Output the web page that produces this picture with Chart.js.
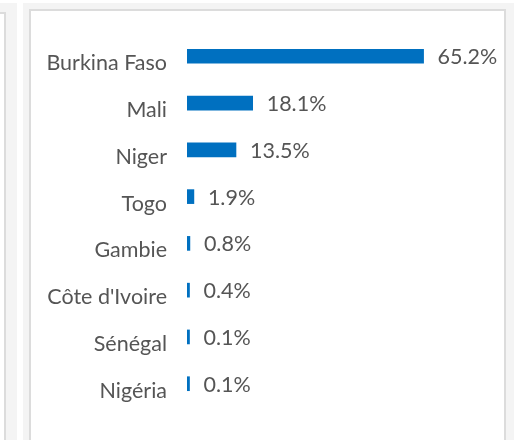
<!DOCTYPE html>
<html><head><meta charset="utf-8">
<script src="https://cdn.jsdelivr.net/npm/chart.js@4.4.1/dist/chart.umd.min.js"></script>
<style>
html,body{margin:0;padding:0;background:#fff;width:514px;height:440px;overflow:hidden;}
.card{position:absolute;background:#f4f4f4;}
.inner{position:absolute;background:#fff;border:2px solid #dcdcdc;box-sizing:border-box;}
#wrap{position:absolute;left:0;top:0;width:514px;height:440px;}
</style></head>
<body>
<div class="card" style="left:0;top:3px;width:17px;height:440px;"><div class="inner" style="left:-20px;top:9px;width:26px;height:460px;"></div></div>
<div class="card" style="left:23px;top:3px;width:491px;height:440px;"><div class="inner" style="left:6px;top:6px;width:477px;height:460px;"></div></div>
<div id="wrap"><canvas id="c" width="514" height="440"></canvas></div>
<script>
const categories = ["Burkina Faso","Mali","Niger","Togo","Gambie","Côte d'Ivoire","Sénégal","Nigéria"];
const values = [65.2,18.1,13.5,1.9,0.8,0.4,0.1,0.1];
const valueLabels = ["65.2%","18.1%","13.5%","1.9%","0.8%","0.4%","0.1%","0.1%"];

const valuePlugin = {
  id:'valuePlugin',
  afterDatasetsDraw(chart){
    const ctx = chart.ctx;
    const meta = chart.getDatasetMeta(0);
    ctx.save();
    ctx.font = '21.5px Lato';
    ctx.fillStyle = '#555';
    ctx.textAlign = 'left';
    ctx.textBaseline = 'middle';
    meta.data.forEach((bar,i)=>{
      ctx.fillText(valueLabels[i], bar.x + 14, bar.y + 1);
    });
    ctx.restore();
  }
};

new Chart(document.getElementById('c'), {
  type:'bar',
  data:{labels:categories, datasets:[{data:values, backgroundColor:'#0070c0', barThickness:14, minBarLength:2.5}]},
  options:{
    indexAxis:'y', responsive:false, animation:false,
    layout:{padding:{left:0,right:73,top:32.5,bottom:31.5}},
    plugins:{legend:{display:false}, tooltip:{enabled:false}},
    scales:{
      x:{display:false, min:0, max:70},
      y:{
        grid:{display:false, drawTicks:false}, border:{display:false},
        ticks:{font:{family:'Lato', size:21.5}, color:'#555', padding:20, labelOffset:7},
        afterFit(s){ s.width = 187; }
      }
    }
  },
  plugins:[valuePlugin]
});
</script>
</body></html>
